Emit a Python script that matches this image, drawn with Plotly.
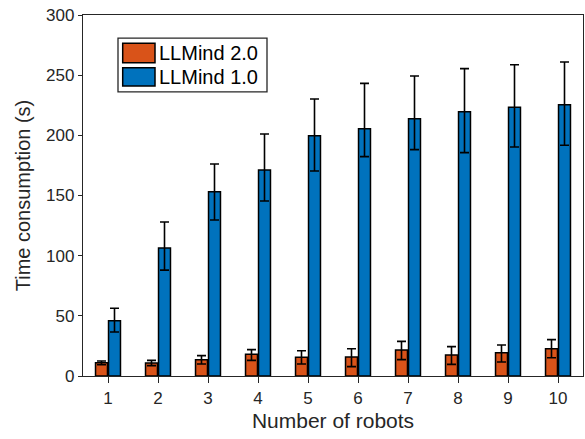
import plotly.graph_objects as go

robots = [1, 2, 3, 4, 5, 6, 7, 8, 9, 10]

v2_mean = [11.0, 10.8, 13.6, 18.0, 15.5, 15.8, 21.6, 17.5, 19.4, 22.7]
v2_err_plus = [1.5, 2.2, 3.3, 3.9, 5.5, 6.9, 7.2, 6.9, 6.4, 7.5]
v2_err_minus = [1.6, 2.2, 3.6, 5.0, 5.5, 8.0, 8.0, 7.8, 7.8, 7.5]

v1_mean = [46.0, 106.4, 153.2, 171.2, 199.7, 205.5, 213.8, 219.6, 223.3, 225.5]
v1_err_plus = [10.3, 21.6, 23.0, 29.9, 30.5, 37.7, 35.5, 35.8, 35.4, 35.4]
v1_err_minus = [9.4, 18.4, 23.6, 25.8, 29.3, 23.2, 25.7, 34.0, 33.0, 33.8]

y_ticks = [0, 50, 100, 150, 200, 250, 300]

series_names = ["LLMind 2.0", "LLMind 1.0"]
ORANGE = "#D95319"
BLUE = "#0072BD"
series_colors = [ORANGE, BLUE]
FONT = "Liberation Sans, Arial, sans-serif"
DARK = "#262626"

fig = go.Figure()
fig.add_trace(go.Bar(
    x=robots, y=v2_mean, name=series_names[0],
    marker=dict(color=ORANGE, line=dict(color="black", width=1.5)),
    error_y=dict(type="data", symmetric=False, array=v2_err_plus,
                 arrayminus=v2_err_minus, color="black", thickness=1.6, width=4.5),
))
fig.add_trace(go.Bar(
    x=robots, y=v1_mean, name=series_names[1],
    marker=dict(color=BLUE, line=dict(color="black", width=1.5)),
    error_y=dict(type="data", symmetric=False, array=v1_err_plus,
                 arrayminus=v1_err_minus, color="black", thickness=1.6, width=4.5),
))

# MATLAB-style legend box with large swatches (drawn in paper coordinates)
shapes = [dict(type="rect", xref="paper", yref="paper",
               x0=0.070, x1=0.368, y0=0.787, y1=0.936,
               fillcolor="white", line=dict(color=DARK, width=1.3), layer="above")]
annotations = []
sw_rows = [(0.8679, 0.9216), (0.8033, 0.8540)]
for name, col, (y0, y1) in zip(series_names, series_colors, sw_rows):
    shapes.append(dict(type="rect", xref="paper", yref="paper",
                       x0=0.0794, x1=0.144, y0=y0, y1=y1,
                       fillcolor=col, line=dict(color="black", width=1.5), layer="above"))
    annotations.append(dict(xref="paper", yref="paper", x=0.147, y=(y0 + y1) / 2,
                            xanchor="left", yanchor="middle", showarrow=False,
                            text=name, font=dict(size=20, color="black", family=FONT)))

fig.update_layout(
    width=585, height=439,
    margin=dict(l=83, r=2, t=15, b=63),
    paper_bgcolor="white", plot_bgcolor="white",
    barmode="group", bargap=0.48, bargroupgap=0.08,
    font=dict(family=FONT, size=17, color=DARK),
    showlegend=False,
    shapes=shapes, annotations=annotations,
    xaxis=dict(
        range=[0.5, 10.5], tickmode="array", tickvals=robots,
        ticktext=[str(r) for r in robots],
        showgrid=False, zeroline=False,
        showline=True, linecolor=DARK, linewidth=1.3, mirror=True,
        ticks="outside", ticklen=6, tickwidth=1.3, tickcolor=DARK,
        title=dict(text="Number of robots", font=dict(size=21), standoff=6),
    ),
    yaxis=dict(
        range=[0, 300], tickmode="array", tickvals=y_ticks,
        showgrid=False, zeroline=False,
        showline=True, linecolor=DARK, linewidth=1.3, mirror=True,
        ticks="outside", ticklen=4, tickwidth=1.3, tickcolor=DARK,
        title=dict(text="Time consumption (s)", font=dict(size=20), standoff=10),
    ),
)

fig.write_html("out.html")
